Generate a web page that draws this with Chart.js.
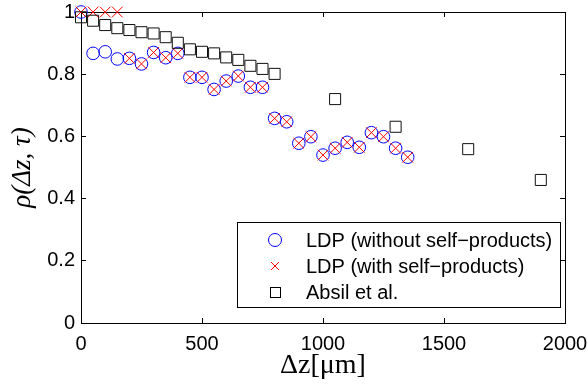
<!DOCTYPE html>
<html>
<head>
<meta charset="utf-8">
<script src="https://cdn.jsdelivr.net/npm/chart.js@4.4.1/dist/chart.umd.min.js"></script>
</head>
<body style="margin:0">
<canvas id="c" width="588" height="390"></canvas>
<script>
// ---- data ----
const ldpX = [0,50,100,150,200,250,300,350,400,450,500,550,600,650,700,750,800,850,900,950,1000,1050,1100,1150,1200,1250,1300,1350];
const ldpWithout = [1.0,0.867,0.872,0.849,0.851,0.833,0.870,0.853,0.867,0.790,0.790,0.751,0.778,0.794,0.758,0.758,0.658,0.647,0.578,0.599,0.540,0.562,0.581,0.565,0.612,0.599,0.562,0.533];
const ldpWith = [1.0,1.0,1.0,1.0,0.851,0.833,0.870,0.853,0.867,0.790,0.790,0.751,0.778,0.794,0.758,0.758,0.658,0.647,0.578,0.599,0.540,0.562,0.581,0.565,0.612,0.599,0.562,0.533];
const absilX = [0,50,100,150,200,250,300,350,400,450,500,550,600,650,700,750,800,1050,1300,1600,1900];
const absilY = [0.983,0.972,0.958,0.948,0.942,0.935,0.931,0.919,0.901,0.880,0.872,0.867,0.854,0.846,0.827,0.817,0.801,0.720,0.631,0.559,0.460];
const xTickValues = [0,500,1000,1500,2000];
const xTickLabels = ['0','500','1000','1500','2000'];
const yTickValues = [0,0.2,0.4,0.6,0.8,1];
const yTickLabels = ['0','0.2','0.4','0.6','0.8','1'];
const seriesNames = ['LDP (without self\u2212products)','LDP (with self\u2212products)','Absil et al.'];
const xTitle = '\u0394z[\u03BCm]';
const yTitle = '\u03C1(\u0394z, \u03C4)';

const pts = (xs, ys) => xs.map((x, i) => ({x: x, y: ys[i]}));
const sansFont = '"Liberation Sans", Arial, sans-serif';
const serifFont = '"Liberation Serif", "Times New Roman", serif';

const legendPlugin = {
  id: 'boxLegend',
  afterDraw(chart) {
    const ctx = chart.ctx;
    ctx.save();
    const bx = 237, by = 222, bw = 323, bh = 85;
    ctx.fillStyle = '#fff';
    ctx.fillRect(bx, by, bw, bh);
    ctx.strokeStyle = '#000';
    ctx.lineWidth = 1;
    ctx.strokeRect(bx + 0.5, by + 0.5, bw, bh);
    const rows = [240, 266, 292];
    const mx = 275;
    ctx.strokeStyle = '#0000ff';
    ctx.beginPath(); ctx.arc(mx, rows[0], 6.5, 0, Math.PI * 2); ctx.stroke();
    ctx.strokeStyle = '#ff0000';
    ctx.beginPath();
    ctx.moveTo(mx - 4, rows[1] - 4); ctx.lineTo(mx + 4, rows[1] + 4);
    ctx.moveTo(mx + 4, rows[1] - 4); ctx.lineTo(mx - 4, rows[1] + 4);
    ctx.stroke();
    ctx.strokeStyle = '#000';
    ctx.strokeRect(mx - 5 + 0.5, rows[2] - 5 + 0.5, 10, 10);
    ctx.fillStyle = '#000';
    ctx.font = '20px ' + sansFont;
    ctx.textBaseline = 'middle';
    ctx.textAlign = 'left';
    seriesNames.forEach((n, i) => ctx.fillText(n, 306, rows[i] + 1));
    ctx.restore();
  }
};

const inwardGrid = { display: true, drawOnChartArea: false, drawTicks: true, tickLength: -5, tickColor: '#000', tickWidth: 1, lineWidth: 1, color: '#000' };
const blackBorder = { display: true, color: '#000', width: 1 };
const noPad = s => { s.paddingLeft = 0; s.paddingRight = 0; s.paddingTop = 0; s.paddingBottom = 0; };

new Chart(document.getElementById('c'), {
  type: 'scatter',
  data: {
    datasets: [
      { label: seriesNames[0], data: pts(ldpX, ldpWithout), pointStyle: 'circle', pointRadius: 6.3, pointHoverRadius: 6.3,
        borderColor: '#0000ff', backgroundColor: 'rgba(0,0,0,0)', pointBorderWidth: 1, borderWidth: 1, order: 3, clip: false },
      { label: seriesNames[1], data: pts(ldpX, ldpWith), pointStyle: 'crossRot', pointRadius: 7.5, pointHoverRadius: 7.5,
        borderColor: '#ff0000', backgroundColor: 'rgba(0,0,0,0)', pointBorderWidth: 1, borderWidth: 1, order: 2, clip: false },
      { label: seriesNames[2], data: pts(absilX, absilY), pointStyle: 'rect', pointRadius: 7.8, pointHoverRadius: 7.8,
        borderColor: '#111', backgroundColor: 'rgba(0,0,0,0)', pointBorderWidth: 1, borderWidth: 1, order: 1, clip: false }
    ]
  },
  options: {
    responsive: false,
    animation: false,
    events: [],
    layout: { padding: { left: 0, right: 23, top: 12, bottom: 0 } },
    plugins: { legend: { display: false }, tooltip: { enabled: false } },
    scales: {
      x: {
        type: 'linear', position: 'bottom', min: 0, max: 2000,
        grid: inwardGrid, border: blackBorder,
        afterBuildTicks: s => { s.ticks = xTickValues.map(v => ({value: v})); },
        afterFit: s => { s.height = 67; noPad(s); },
        ticks: { color: '#000', padding: 14, maxRotation: 0, autoSkip: false,
          font: { family: sansFont, size: 20 },
          callback: (v, i) => xTickLabels[i] },
        title: { display: true, text: xTitle, color: '#000',
          font: { family: serifFont, size: 28, lineHeight: 1 },
          padding: { top: 0, bottom: 10 } }
      },
      x2: {
        type: 'linear', position: 'top', min: 0, max: 2000,
        grid: inwardGrid, border: blackBorder,
        afterBuildTicks: s => { s.ticks = xTickValues.map(v => ({value: v})); },
        afterFit: s => { s.height = 0; noPad(s); },
        ticks: { display: false }
      },
      y: {
        type: 'linear', position: 'left', min: 0, max: 1,
        grid: inwardGrid, border: blackBorder,
        afterBuildTicks: s => { s.ticks = yTickValues.map(v => ({value: v})); },
        afterFit: s => { s.width = 81; noPad(s); },
        ticks: { color: '#000', padding: 11, autoSkip: false,
          font: { family: sansFont, size: 20 },
          callback: (v, i) => yTickLabels[i] },
        title: { display: true, text: yTitle, color: '#000',
          font: { family: serifFont, size: 27, style: 'italic', lineHeight: 1 },
          padding: { top: 9, bottom: 0 } }
      },
      y2: {
        type: 'linear', position: 'right', min: 0, max: 1,
        grid: inwardGrid, border: blackBorder,
        afterBuildTicks: s => { s.ticks = yTickValues.map(v => ({value: v})); },
        afterFit: s => { s.width = 0; noPad(s); },
        ticks: { display: false }
      }
    }
  },
  plugins: [legendPlugin]
});
</script>
</body>
</html>
